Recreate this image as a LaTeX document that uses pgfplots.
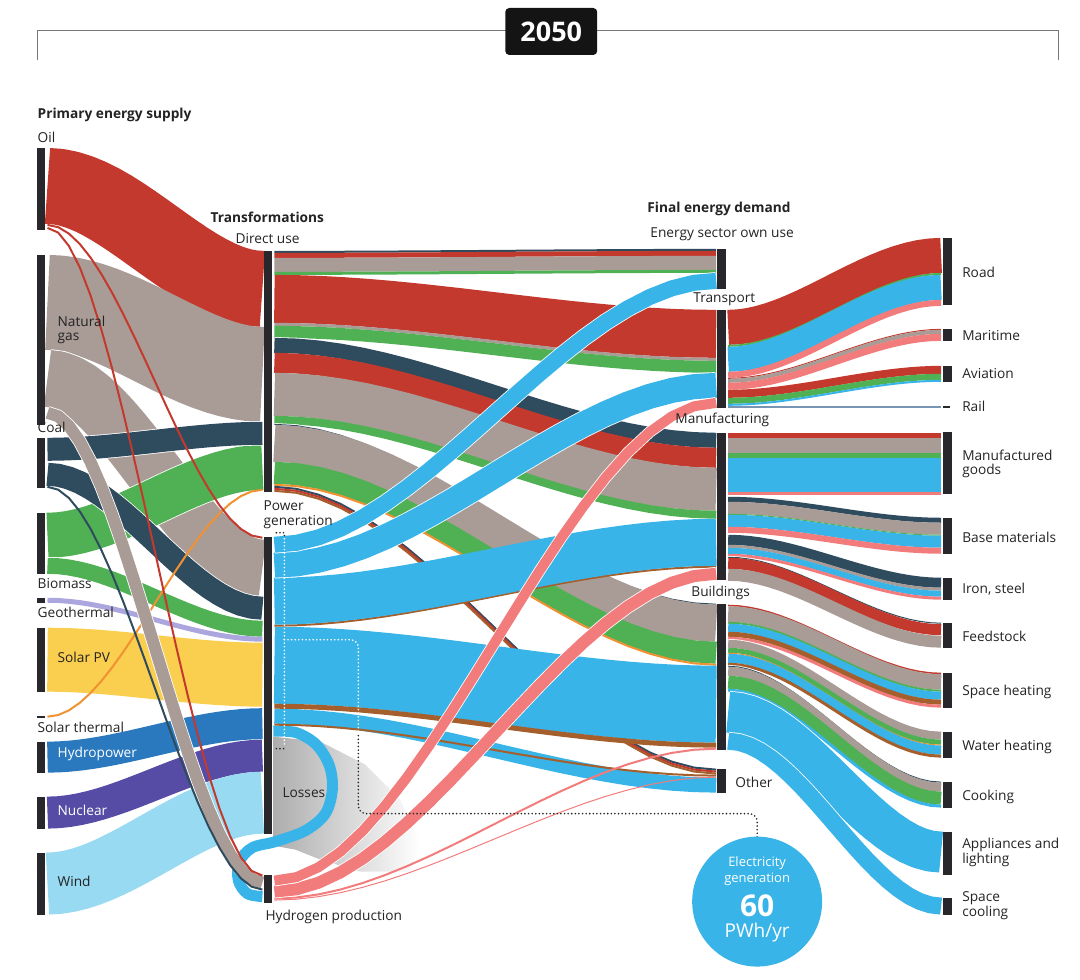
\documentclass[border=0pt]{standalone}
\usepackage{pgfplots}
\pgfplotsset{compat=1.18}
\usepackage{pgfplotstable}
\usepackage{fontspec}
\setmainfont{Open Sans}
\definecolor{oil}{RGB}{196,57,45}
\definecolor{gas}{RGB}{169,156,150}
\definecolor{coal}{RGB}{47,75,94}
\definecolor{bio}{RGB}{80,176,84}
\definecolor{geo}{RGB}{172,166,222}
\definecolor{pv}{RGB}{250,206,78}
\definecolor{st}{RGB}{240,145,50}
\definecolor{hydro}{RGB}{42,120,190}
\definecolor{nuclear}{RGB}{86,76,166}
\definecolor{wind}{RGB}{152,218,242}
\definecolor{elec}{RGB}{56,180,232}
\definecolor{htwo}{RGB}{242,124,124}
\definecolor{heat}{RGB}{165,95,45}
\definecolor{rail}{RGB}{120,150,180}
\definecolor{nodebar}{RGB}{40,40,44}
\definecolor{txt}{RGB}{35,35,35}
\definecolor{titlegray}{RGB}{120,120,120}

% smooth S-shape (t, s) used as the centre line of every band
\pgfplotstableread{
t s
0 0
0.05 0.00725
0.1 0.028
0.15 0.06075
0.2 0.104
0.25 0.15625
0.3 0.216
0.35 0.28175
0.4 0.352
0.45 0.42525
0.5 0.5
0.55 0.57475
0.6 0.648
0.65 0.71825
0.7 0.784
0.75 0.84375
0.8 0.896
0.85 0.93925
0.9 0.972
0.95 0.99275
1 1
}\sshape

% \flow{x1}{y1 top}{y1 bottom}{x2}{y2 top}{y2 bottom}{colour}
\newcommand{\flow}[7]{%
\addplot[draw=#7, line width={(#3)-(#2)}, line join=round, mark=none]
 table[x expr={#1+\thisrow{t}*(#4-(#1))},
       y expr={((#2)+(#3))/2+\thisrow{s}*(((#5)+(#6))/2-((#2)+(#3))/2)}]{\sshape};}
\newcommand{\flowW}[7]{%
\addplot[draw=white, line width={(#3)-(#2)+1.6}, line join=round, mark=none]
 table[x expr={#1+\thisrow{t}*(#4-(#1))},
       y expr={((#2)+(#3))/2+\thisrow{s}*(((#5)+(#6))/2-((#2)+(#3))/2)}]{\sshape};
\flow{#1}{#2}{#3}{#4}{#5}{#6}{#7}}
% \nbar{x1}{x2}{y1}{y2}
\newcommand{\nbar}[4]{%
\addplot[fill=nodebar, draw=none, mark=none] coordinates {(#1,#3) (#2,#3) (#2,#4) (#1,#4)};}
\newcommand{\lab}[4][]{\node[anchor=west, inner sep=0pt, font=\fontsize{13.7}{14.5}\selectfont, text=txt, align=left, #1] at (axis cs:#2,#3) {#4};}

\begin{document}
\begin{tikzpicture}
\begin{axis}[width=1080pt, height=980pt, scale only axis,
  xmin=0, xmax=1080, ymin=0, ymax=980, y dir=reverse,
  hide axis, clip=false]

% invisible frame: keeps the page exactly the size of the axis
\addplot[draw=none, mark=none] coordinates {(0,0) (1080,0) (1080,980) (0,980)};

% ---------- losses ----------
\addplot[draw=none, left color=black!32, right color=white, mark=none]
 coordinates {(273,737) (320,742) (365,765) (400,800) (420,845) (410,872) (360,872) (320,860) (295,850) (273,846)};

% ---------- primary supply -> transformations ----------
\flow{47}{148}{224}{262}{251}{327}{oil}
\flow{47}{255}{350}{262}{327}{422}{gas}
\flowW{47}{350}{407}{262}{540}{597}{gas}
\flowW{47}{513}{558}{262}{445}{490}{bio}
\flowW{47}{558}{574}{262}{621}{637}{bio}
\flowW{47}{438}{461}{262}{422}{445}{coal}
\flowW{47}{463}{486}{262}{597}{620}{coal}
\flow{47}{598}{603}{262}{637}{642}{geo}
\flow{47}{628}{692}{262}{643}{707}{pv}
\flow{47}{742}{773}{262}{708}{740}{hydro}
\flow{47}{797}{829}{262}{740}{772}{nuclear}
\flow{47}{853}{915}{262}{772}{834}{wind}

% electricity loop: power generation -> hydrogen production
\addplot[draw=elec, line width=11, smooth, tension=0.55, mark=none] coordinates {
 (273,731.5) (296,733) (316,745) (329,766) (332,790) (325,814) (305,831) (275,842) (252,848) (239,862) (238,881) (247,894) (262,897)};

\flow{47}{716}{718}{262}{489}{491}{st}
\flow{47}{224}{226}{262}{537}{539}{oil}
\flowW{47}{407}{419}{262}{877}{889}{gas}
\flow{47}{486}{488}{262}{889}{891}{coal}
\flow{47}{227}{229}{262}{875}{877}{oil}

% ---------- transformations -> final energy demand ----------
% direct use
\flow{274}{251}{253}{716}{249}{251}{coal}
\flow{274}{253}{258}{716}{251}{256}{oil}
\flow{274}{258}{272}{716}{256}{270}{gas}
\flow{274}{272}{275}{716}{270}{273}{bio}
\flow{274}{275}{323}{716}{310}{358}{oil}
\flow{274}{323}{326}{716}{358}{361}{gas}
\flow{274}{326}{338}{716}{361}{373}{bio}
\flowW{274}{338}{353}{716}{433}{448}{coal}
\flow{274}{353}{373}{716}{448}{468}{oil}
\flow{274}{373}{416}{716}{468}{511}{gas}
\flow{274}{416}{424}{716}{511}{519}{bio}
\flowW{274}{424}{425}{716}{604}{605}{coal}
\flow{274}{425}{462}{716}{605}{642}{gas}
\flow{274}{462}{484}{716}{642}{664}{bio}
\flow{274}{484}{486}{716}{664}{666}{st}
\flow{274}{486}{488}{716}{769}{771}{coal}
\flow{274}{488}{490}{716}{771}{773}{oil}
\flow{274}{490}{492}{716}{773}{775}{heat}
% power generation
\flow{274}{709}{724}{716}{778}{793}{elec}
\flow{274}{724}{726}{716}{775}{777}{heat}
\flow{274}{627}{704}{716}{666}{743}{elec}
\flow{274}{704}{709}{716}{743}{748}{heat}
\flow{274}{625}{627}{716}{566}{568}{heat}
\flow{274}{578}{625}{716}{519}{566}{elec}
\flowW{274}{553}{578}{716}{373}{398}{elec}
\flowW{274}{537}{553}{716}{273}{289}{elec}
% hydrogen production
\flow{274}{900}{901}{716}{777}{778}{htwo}
\flow{274}{898}{900}{716}{748}{750}{htwo}
\flowW{274}{886}{898}{716}{568}{580}{htwo}
\flowW{274}{876}{886}{716}{398}{408}{htwo}

% ---------- final energy demand -> end uses ----------
% transport
\flow{728}{310}{345}{941}{238}{273}{oil}
\flow{728}{345}{347}{941}{273}{275}{bio}
\flow{728}{347}{372}{941}{275}{300}{elec}
\flow{728}{372}{378}{941}{300}{306}{htwo}
\flow{728}{378}{379}{941}{329}{330}{oil}
\flow{728}{379}{383}{941}{330}{334}{gas}
\flow{728}{383}{390}{941}{334}{341}{htwo}
\flow{728}{390}{398}{941}{366}{374}{oil}
\flow{728}{398}{404}{941}{374}{380}{bio}
\flow{728}{404}{406}{941}{380}{382}{elec}
\flow{728}{406.3}{407.7}{941}{406.3}{407.7}{rail}
% manufacturing
\flow{728}{433}{438}{941}{433}{438}{oil}
\flow{728}{438}{453}{941}{438}{453}{gas}
\flow{728}{453}{458}{941}{453}{458}{bio}
\flow{728}{458}{492}{941}{458}{492}{elec}
\flow{728}{492}{495}{941}{492}{495}{htwo}
\flowW{728}{497}{502}{941}{518}{523}{coal}
\flow{728}{502}{514}{941}{523}{535}{gas}
\flow{728}{514}{515}{941}{535}{536}{bio}
\flow{728}{515}{527}{941}{536}{548}{elec}
\flow{728}{527}{533}{941}{548}{554}{htwo}
\flowW{728}{535}{545}{941}{578}{588}{coal}
\flow{728}{545}{548}{941}{588}{591}{gas}
\flow{728}{548}{554}{941}{591}{597}{elec}
\flow{728}{554}{557}{941}{597}{600}{htwo}
\flowW{728}{557}{558}{941}{623}{624}{coal}
\flow{728}{558}{569}{941}{624}{636}{oil}
\flow{728}{569}{581}{941}{636}{648}{gas}
% buildings
\flowW{728}{605}{606.5}{941}{673}{674.5}{oil}
\flow{728}{606.5}{622}{941}{674.5}{690}{gas}
\flow{728}{622}{624}{941}{690}{692}{bio}
\flow{728}{624}{632}{941}{692}{700}{elec}
\flow{728}{632}{637}{941}{700}{705}{heat}
\flow{728}{637}{640}{941}{705}{708}{htwo}
\flowW{728}{640}{648}{941}{732}{740}{gas}
\flow{728}{648}{653}{941}{740}{745}{bio}
\flow{728}{653}{654}{941}{745}{746}{st}
\flow{728}{654}{663}{941}{746}{755}{elec}
\flow{728}{663}{666}{941}{755}{758}{heat}
\flowW{728}{666}{667}{941}{782}{783}{coal}
\flow{728}{667}{676}{941}{783}{792}{gas}
\flow{728}{676}{689}{941}{792}{805}{bio}
\flow{728}{689}{692}{941}{805}{808}{elec}
\flowW{728}{692}{733}{941}{832}{873}{elec}
\flowW{728}{733}{750}{941}{898}{915}{elec}

% ---------- node bars ----------
\nbar{37}{45}{148}{230}
\nbar{37}{45}{255}{425}
\nbar{37}{45}{438}{488}
\nbar{37}{45}{513}{574}
\nbar{37}{45}{598}{603}
\nbar{37}{45}{628}{692}
\nbar{37}{45}{716}{718}
\nbar{37}{45}{742}{773}
\nbar{37}{45}{797}{829}
\nbar{37}{45}{853}{915}
\nbar{264}{272}{251}{492}
\nbar{264}{272}{537}{834}
\nbar{264}{272}{875}{903}
\nbar{717}{726}{249}{289}
\nbar{717}{726}{310}{408}
\nbar{717}{726}{433}{580}
\nbar{717}{726}{604}{750}
\nbar{717}{726}{769}{793}
\nbar{943}{952}{238}{305}
\nbar{943}{952}{329}{341}
\nbar{943}{952}{366}{382}
\nbar{943}{950}{406}{408}
\nbar{943}{952}{432}{494}
\nbar{943}{952}{518}{554}
\nbar{943}{952}{578}{600}
\nbar{943}{952}{623}{648}
\nbar{943}{952}{673}{708}
\nbar{943}{952}{732}{758}
\nbar{943}{952}{782}{808}
\nbar{943}{952}{832}{875}
\nbar{943}{952}{898}{915}

% ---------- electricity generation callout ----------
\addplot[white, line width=1.8, dash pattern=on 0pt off 3.6pt, line cap=round, mark=none] coordinates {(284,539) (284,745)};
\addplot[white, line width=1.8, dash pattern=on 0pt off 3.6pt, line cap=round, rounded corners=8pt, mark=none] coordinates {(284,640) (358,640) (358,732)};
\addplot[black!85, line width=1.8, dash pattern=on 0pt off 3.6pt, line cap=round, mark=none] coordinates {(276,533) (284,533) (284,536)};
\addplot[black!85, line width=1.8, dash pattern=on 0pt off 3.6pt, line cap=round, mark=none] coordinates {(276,749) (284,749)};
\addplot[black!85, line width=1.8, dash pattern=on 0pt off 3.6pt, line cap=round, rounded corners=8pt, mark=none] coordinates {(358,736) (358,814) (757,814) (757,838)};
\node[circle, fill=elec, minimum size=130pt, inner sep=0pt] at (axis cs:757,902) {};
\node[text=white, font=\fontsize{13}{14}\selectfont, inner sep=0pt] at (axis cs:757,864) {Electricity};
\node[text=white, font=\fontsize{13}{14}\selectfont, inner sep=0pt] at (axis cs:757,880) {generation};
\node[text=white, font=\fontsize{30}{32}\selectfont\bfseries, inner sep=0pt] at (axis cs:757,906) {60};
\node[text=white, font=\fontsize{19}{20}\selectfont, inner sep=0pt] at (axis cs:757,933) {PWh/yr};

% ---------- title ----------
\addplot[titlegray, line width=1, mark=none] coordinates {(37,60) (37,31) (1058,31) (1058,60)};
\node[fill=black!92, rounded corners=4pt, minimum width=92pt, minimum height=47pt, text=white, font=\fontsize{27}{28}\selectfont\bfseries] at (axis cs:551,31.5) {2050};

% ---------- labels ----------
\lab[font=\fontsize{13.7}{14.5}\selectfont\bfseries]{37}{115}{Primary energy supply}
\lab{37}{137}{Oil}
\lab{57}{330}{Natural\\gas}
\lab{37}{428}{Coal}
\lab{37}{584}{Biomass}
\lab{37}{613}{Geothermal}
\lab{57}{658}{Solar PV}
\lab{37}{728}{Solar thermal}
\lab[text=white]{57}{754}{Hydropower}
\lab[text=white]{57}{811}{Nuclear}
\lab{57}{882}{Wind}
\lab[font=\fontsize{13.7}{14.5}\selectfont\bfseries]{210}{217}{Transformations}
\lab{235}{239}{Direct use}
\lab{263}{515}{Power\\generation}
\lab{282}{793}{Losses}
\lab{265}{917}{Hydrogen production}
\lab[font=\fontsize{13.7}{14.5}\selectfont\bfseries]{647}{209}{Final energy demand}
\lab{650}{234}{Energy sector own use}
\lab{693}{299}{Transport}
\lab{675}{420}{Manufacturing}
\lab{691}{593}{Buildings}
\lab{735}{783}{Other}
\lab{962}{272}{Road}
\lab{962}{336}{Maritime}
\lab{962}{374}{Aviation}
\lab{962}{407}{Rail}
\lab{962}{464}{Manufactured\\goods}
\lab{962}{538}{Base materials}
\lab{962}{589}{Iron, steel}
\lab{962}{637}{Feedstock}
\lab{962}{692}{Space heating}
\lab{962}{747}{Water heating}
\lab{962}{797}{Cooking}
\lab{962}{853}{Appliances and\\lighting}
\lab{962}{906}{Space\\cooling}
\end{axis}
\end{tikzpicture}
\end{document}
